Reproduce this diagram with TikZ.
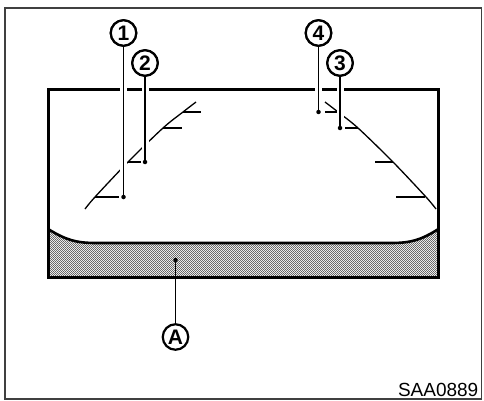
\documentclass[tikz,border=0pt]{standalone}
\usepackage{fontspec}
\setmainfont{Liberation Sans}
\usetikzlibrary{patterns}
\pgfdeclarepatternformonly{fineck}{\pgfqpoint{0pt}{0pt}}{\pgfqpoint{2.4pt}{2.4pt}}{\pgfqpoint{2.4pt}{2.4pt}}{%
  \pgfpathcircle{\pgfqpoint{0.6pt}{0.6pt}}{0.52pt}%
  \pgfpathcircle{\pgfqpoint{1.8pt}{1.8pt}}{0.52pt}%
  \pgfusepath{fill}}
\begin{document}
\begin{tikzpicture}[x=1pt,y=-1pt,
  frameline/.style={draw=black!75,line width=1.1pt},
  screen/.style={draw=black,line width=3pt},
  guide/.style={draw=black,line width=1.3pt},
  leader/.style={draw=black,line width=1.3pt,preaction={draw=white,line width=7pt}},
  plainleader/.style={draw=black,line width=1.3pt},
  callout/.style={circle,draw=black,line width=2.2pt,fill=white,minimum size=25.5pt,inner sep=0pt,
    font=\fontsize{21}{21}\selectfont\bfseries},
  dotmark/.style={circle,fill=black,inner sep=0pt,minimum size=4.5pt}]
\useasboundingbox (0,0) rectangle (484,401);
\fill[white] (0,0) rectangle (484,401);
% outer frame
\draw[frameline] (5,8) rectangle (481.5,399);
% shaded bumper band
\path[fill=black!8] (48,229) .. controls (66,240) and (76,243) .. (96,243) -- (391,243) .. controls (411,243) and (421,240) .. (438.5,229) -- (438.5,277.5) -- (48,277.5) -- cycle;
\path[pattern=fineck,pattern color=black!80] (48,229) .. controls (66,240) and (76,243) .. (96,243) -- (391,243) .. controls (411,243) and (421,240) .. (438.5,229) -- (438.5,277.5) -- (48,277.5) -- cycle;
\draw[black,line width=2.6pt] (48,229) .. controls (66,240) and (76,243) .. (96,243) -- (391,243) .. controls (411,243) and (421,240) .. (438.5,229);
% screen border
\draw[screen] (48,90) rectangle (438.5,277.5);
% guide lines
\draw[guide] plot[smooth] coordinates {(85,209) (95,197) (128,162) (163,128) (183,112) (196,102)};
\draw[guide] plot[smooth] coordinates {(436,209) (426,197) (393,162) (358,128) (338,112) (325,102)};
% ticks left
\draw[guide] (95,197) -- (119,197);
\draw[guide] (128,162) -- (141,162);
\draw[guide] (163,128) -- (182,128);
\draw[guide] (183,112) -- (201,112);
% ticks right
\draw[guide] (425,197) -- (396,197);
\draw[guide] (393,162) -- (375,162);
\draw[guide] (358,128) -- (345,128);
\draw[guide] (338,112) -- (325,112);
% callouts
\node[callout] (c1) at (123.5,33) {1};
\node[callout] (c2) at (145,63) {2};
\node[callout] (c4) at (318.5,33) {4};
\node[callout] (c3) at (340,63) {3};
\node[callout] (cA) at (175.5,337) {A};
% leader ends
\coordinate (d1) at (123.5,197);
\coordinate (d2) at (145,162);
\coordinate (d4) at (318.5,112);
\coordinate (d3) at (340,128);
\coordinate (dA) at (175.5,260);
\draw[leader] (c1.south) -- (d1);
\draw[leader] (c2.south) -- (d2);
\draw[leader] (c4.south) -- (d4);
\draw[leader] (c3.south) -- (d3);
\draw[plainleader] (cA.north) -- (dA);
% redraw callouts over halos
\node[callout] at (c1) {1};
\node[callout] at (c2) {2};
\node[callout] at (c4) {4};
\node[callout] at (c3) {3};
\node[dotmark] at (d1) {};
\node[dotmark] at (d2) {};
\node[dotmark] at (d4) {};
\node[dotmark] at (d3) {};
\node[dotmark] at (dA) {};
% figure code
\node[anchor=base east,inner sep=0pt,font=\fontsize{19}{19}\selectfont] (code) at (478.5,396) {SAA0889};
\end{tikzpicture}
\end{document}
